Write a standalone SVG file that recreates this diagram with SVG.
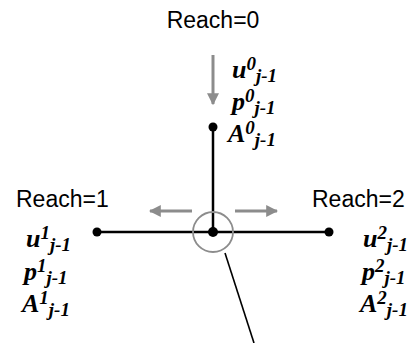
<svg xmlns="http://www.w3.org/2000/svg" width="414" height="343" viewBox="0 0 414 343">
<style>
.lbl{font-family:"Liberation Sans",Arial,sans-serif;font-size:23px;fill:#000}
.m{font-family:"Liberation Serif","Times New Roman",serif;font-size:26px;font-style:italic;font-weight:bold;fill:#000}
.s{font-size:19px}
.edge{stroke:#000;stroke-width:2.5;fill:none}
.gray{stroke:#8c8c8c;stroke-width:3;fill:none}
</style>
<defs>
<marker id="ah" viewBox="0 0 10 10" refX="9" refY="5" markerWidth="4" markerHeight="4" orient="auto" markerUnits="strokeWidth">
<path d="M0,0 L10,5 L0,10 z" fill="#8c8c8c"/>
</marker>
</defs>
<g id="connectors">
<line class="edge" x1="213" y1="127" x2="213" y2="232"/>
<line class="edge" x1="97" y1="232" x2="329" y2="232"/>
<line class="gray" x1="213" y1="55" x2="213" y2="104" marker-end="url(#ah)"/>
<line class="gray" x1="192" y1="211" x2="150" y2="211" marker-end="url(#ah)"/>
<line class="gray" x1="235" y1="211" x2="277" y2="211" marker-end="url(#ah)"/>
<circle cx="213" cy="232" r="20" fill="none" stroke="#8c8c8c" stroke-width="1.8"/>
<line x1="225" y1="253" x2="254" y2="343" stroke="#000" stroke-width="1.6"/>
</g>
<g id="reach0">
<text class="lbl" x="213" y="28" text-anchor="middle">Reach=0</text>
<circle cx="213" cy="127" r="4.5" fill="#000"/>
<text class="m" x="232" y="78">u<tspan class="s" dy="-8">0</tspan><tspan class="s" dy="12">j-1</tspan></text>
<text class="m" x="232" y="110">p<tspan class="s" dy="-8">0</tspan><tspan class="s" dy="12">j-1</tspan></text>
<text class="m" x="228" y="142">A<tspan class="s" dy="-8">0</tspan><tspan class="s" dy="12">j-1</tspan></text>
</g>
<g id="reach1">
<text class="lbl" x="16" y="207">Reach=1</text>
<circle cx="97" cy="232" r="4.5" fill="#000"/>
<text class="m" x="26" y="247">u<tspan class="s" dy="-8">1</tspan><tspan class="s" dy="12">j-1</tspan></text>
<text class="m" x="24" y="280">p<tspan class="s" dy="-8">1</tspan><tspan class="s" dy="12">j-1</tspan></text>
<text class="m" x="22" y="312">A<tspan class="s" dy="-8">1</tspan><tspan class="s" dy="12">j-1</tspan></text>
</g>
<g id="reach2">
<text class="lbl" x="312" y="207">Reach=2</text>
<circle cx="329" cy="232" r="4.5" fill="#000"/>
<text class="m" x="363" y="247">u<tspan class="s" dy="-8">2</tspan><tspan class="s" dy="12">j-1</tspan></text>
<text class="m" x="362" y="280">p<tspan class="s" dy="-8">2</tspan><tspan class="s" dy="12">j-1</tspan></text>
<text class="m" x="360" y="312">A<tspan class="s" dy="-8">2</tspan><tspan class="s" dy="12">j-1</tspan></text>
</g>
<g id="junction">
<circle cx="213" cy="232" r="5" fill="#000"/>
</g>
</svg>
